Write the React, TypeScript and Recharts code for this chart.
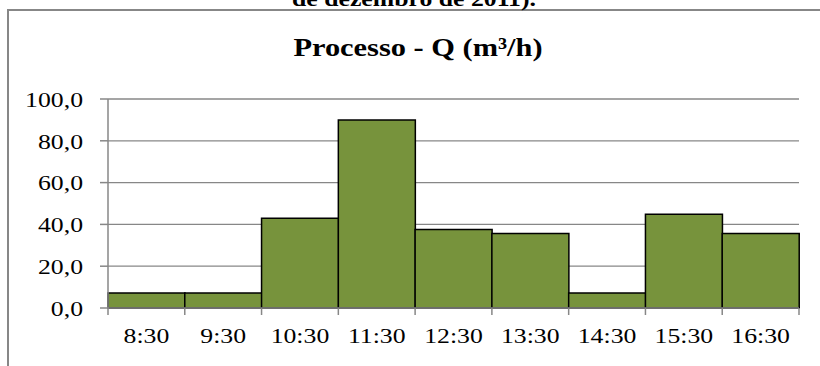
import React from "react";
import { BarChart, Bar, XAxis, YAxis, CartesianGrid } from "recharts";

const horas = ["8:30", "9:30", "10:30", "11:30", "12:30", "13:30", "14:30", "15:30", "16:30"];
const vazao = [7.2, 7.2, 42.9, 89.9, 37.6, 35.7, 7.2, 44.8, 35.7];
const yTicks = [0, 20, 40, 60, 80, 100];

const data = horas.map((h, i) => ({ hora: h, q: vazao[i] }));

const SX = 1.17;
const W = 820;
const H = 366;
const LEFT = 108;
const RIGHT = 799;
const BOTTOM = 308;
const step = (RIGHT - LEFT) / horas.length;
const serif = { fontFamily: "'Liberation Serif', serif" };

const fmt = (v: number) => v.toFixed(1).replace(".", ",");

function YTick(props: any) {
    const { y, payload } = props;
    return (
        <text
            transform={`translate(${LEFT - 25},${y}) scale(${SX},1)`}
            textAnchor="end"
            dy="0.35em"
            style={serif}
            fontSize={22}
            fill="#000"
        >
            {fmt(payload.value)}
        </text>
    );
}

function XTick(props: any) {
    const { x, payload, index } = props;
    const last = index === horas.length - 1;
    return (
        <g>
            <line x1={x - step / 2} x2={x - step / 2} y1={BOTTOM} y2={BOTTOM + 7} stroke="#878787" strokeWidth={1.5} />
            {last && <line x1={x + step / 2} x2={x + step / 2} y1={BOTTOM} y2={BOTTOM + 7} stroke="#878787" strokeWidth={1.5} />}
            <text
                transform={`translate(${x},${BOTTOM + 35}) scale(${SX},1)`}
                textAnchor="middle"
                style={serif}
                fontSize={22}
                fill="#000"
            >
                {payload.value}
            </text>
        </g>
    );
}

export default function App() {
    return (
        <div style={{ position: "absolute", left: 0, top: 0, width: W, height: H, overflow: "hidden", background: "#fff" }}>
            <div
                style={{
                    position: "absolute",
                    left: 7,
                    top: 9,
                    width: 900,
                    height: 500,
                    border: "2px solid #878787",
                }}
            />
            <svg width={W} height={H} style={{ position: "absolute", left: 0, top: 0 }}>
                <text
                    transform={`translate(414,6) scale(${SX},1)`}
                    textAnchor="middle"
                    style={serif}
                    fontWeight="bold"
                    fontSize={22}
                >
                    de dezembro de 2011).
                </text>
                <text
                    transform={`translate(418,56) scale(${SX},1)`}
                    textAnchor="middle"
                    style={serif}
                    fontWeight="bold"
                    fontSize={26}
                >
                    Processo - Q (m³/h)
                </text>
            </svg>
            <div style={{ position: "absolute", left: 0, top: 0 }}>
                <BarChart
                    width={W}
                    height={H}
                    data={data}
                    margin={{ top: 99, right: W - RIGHT, bottom: 0, left: 0 }}
                    barCategoryGap={0}
                >
                    <CartesianGrid horizontal vertical={false} stroke="#878787" strokeWidth={1.3} />
                    <XAxis
                        dataKey="hora"
                        height={H - BOTTOM}
                        tick={XTick}
                        tickLine={false}
                        interval={0}
                        axisLine={{ stroke: "#878787", strokeWidth: 1.5 }}
                    />
                    <YAxis
                        width={LEFT}
                        domain={[0, 100]}
                        ticks={yTicks}
                        interval={0}
                        tick={YTick}
                        tickSize={8}
                        tickLine={{ stroke: "#878787", strokeWidth: 1.5 }}
                        axisLine={{ stroke: "#878787", strokeWidth: 1.5 }}
                    />
                    <Bar dataKey="q" fill="#77933C" stroke="#000" strokeWidth={1.5} isAnimationActive={false} />
                </BarChart>
            </div>
        </div>
    );
}
